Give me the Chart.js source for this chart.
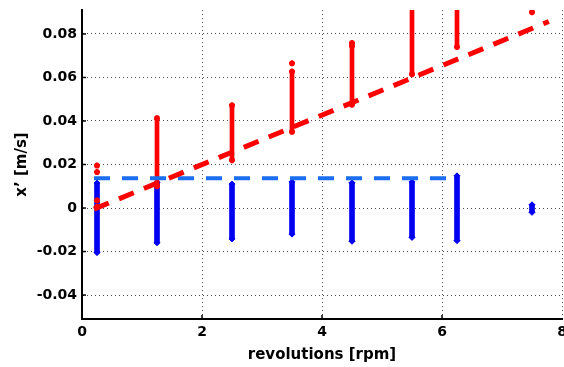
<!DOCTYPE html>
<html>
<head>
<meta charset="utf-8">
<script src="https://cdn.jsdelivr.net/npm/chart.js@4/dist/chart.umd.min.js"></script>
<style>
  html, body { margin: 0; background: #fff; }
  #wrap { width: 564px; height: 367px; }
</style>
</head>
<body>
<div id="wrap"><canvas id="grafico"></canvas></div>
<script>
// --- Datos ---
const rpm = [0.25, 1.25, 2.5, 3.5, 4.5, 5.5, 6.25, 7.5];

// rango vertical de puntos rojos por velocidad (null = sin columna)
const rojoMin = [null, 0.010, 0.022, 0.035, 0.0475, 0.0615, 0.074, null];
const rojoMax = [null, 0.0413, 0.0472, 0.0627, 0.0745, 0.095, 0.095, null];

// puntos rojos sueltos
const rojoSueltoX = [0.25, 0.25, 0.25, 0.25, 3.5, 4.5, 7.5];
const rojoSueltoY = [0.0195, 0.0165, 0.0035, 0.0005, 0.0665, 0.0758, 0.090];

// rango vertical de puntos azules
const azulMin = [-0.0205, -0.016, -0.0142, -0.012, -0.0153, -0.0135, -0.015, -0.002];
const azulMax = [0.0115, 0.0118, 0.011, 0.012, 0.0116, 0.012, 0.0148, 0.0015];

// líneas de tendencia
const tendRojoX = [0.2, 7.78];
const tendRojoY = [-0.0005, 0.0857];
const tendAzulX = [0.2, 6.07];
const tendAzulY = [0.0137, 0.0137];

const ticksX = [0, 2, 4, 6, 8];
const ticksY = [-0.04, -0.02, 0, 0.02, 0.04, 0.06, 0.08];

// --- Armar datasets ---
const rangos = (mins, maxs) => rpm
  .map((x, i) => mins[i] === null ? null : { x, y: [mins[i], maxs[i]] })
  .filter(d => d);
const extremos = (mins, maxs) => rpm.flatMap((x, i) =>
  mins[i] === null ? [] : [{ x, y: mins[i] }, { x, y: maxs[i] }]);
const puntos = (xs, ys) => xs.map((x, i) => ({ x, y: ys[i] }));

const fuenteTick = { family: "DejaVu Sans", weight: "bold", size: 14 };
const fuenteTitulo = { family: "DejaVu Sans", weight: "bold", size: 15 };
const gridPunteado = {
  color: "rgba(0,0,0,0.7)",
  lineWidth: 1,
  drawTicks: false
};

// ticks hacia adentro, como en MATLAB
const ticksAdentro = {
  id: "ticksAdentro",
  afterDraw(chart) {
    const { ctx, chartArea, scales } = chart;
    ctx.save();
    ctx.strokeStyle = "#000";
    ctx.lineWidth = 1.5;
    ticksX.forEach(v => {
      const px = scales.x.getPixelForValue(v);
      if (px <= chartArea.left + 1 || px >= chartArea.right - 1) return;
      ctx.beginPath();
      ctx.moveTo(px, chartArea.bottom);
      ctx.lineTo(px, chartArea.bottom - 4);
      ctx.stroke();
    });
    ticksY.forEach(v => {
      const py = scales.y.getPixelForValue(v);
      ctx.beginPath();
      ctx.moveTo(chartArea.left, py);
      ctx.lineTo(chartArea.left + 4, py);
      ctx.stroke();
    });
    ctx.restore();
  }
};

new Chart(document.getElementById("grafico"), {
  type: "scatter",
  data: {
    datasets: [
      {
        type: "line",
        data: puntos(tendRojoX, tendRojoY),
        borderColor: "#ff0000",
        borderWidth: 5,
        borderDash: [16, 11],
        pointRadius: 0,
        order: 0
      },
      {
        type: "line",
        data: puntos(tendAzulX, tendAzulY),
        borderColor: "#1a6ef0",
        borderWidth: 4,
        borderDash: [16, 12],
        pointRadius: 0,
        order: 1
      },
      {
        type: "bar",
        data: rangos(rojoMin, rojoMax),
        backgroundColor: "#ff0000",
        barThickness: 4,
        grouped: false,
        order: 2
      },
      {
        data: extremos(rojoMin, rojoMax).concat(puntos(rojoSueltoX, rojoSueltoY)),
        pointStyle: "star",
        pointRadius: 3,
        borderWidth: 2,
        borderColor: "#ff0000",
        backgroundColor: "#ff0000",
        order: 2
      },
      {
        type: "bar",
        data: rangos(azulMin, azulMax),
        backgroundColor: "#0000f0",
        barThickness: 5,
        grouped: false,
        order: 3
      },
      {
        data: extremos(azulMin, azulMax),
        pointStyle: "rectRot",
        pointRadius: 3,
        borderWidth: 1,
        borderColor: "#0000f0",
        backgroundColor: "#0000f0",
        order: 3
      }
    ]
  },
  options: {
    responsive: true,
    maintainAspectRatio: false,
    animation: false,
    layout: { autoPadding: false, padding: { left: 0, right: 2, top: 10, bottom: 0 } },
    plugins: { legend: { display: false }, tooltip: { enabled: false } },
    scales: {
      x: {
        type: "linear",
        min: 0,
        max: 8,
        offset: false,
        afterBuildTicks: s => { s.ticks = ticksX.map(v => ({ value: v })); },
        afterFit: s => { s.height = 48; s.paddingLeft = 0; s.paddingRight = 0; },
        grid: { ...gridPunteado, offset: false },
        border: { display: true, color: "#000", width: 2, dash: [1, 3] },
        ticks: { color: "#000", font: fuenteTick, padding: 5, maxRotation: 0 },
        title: {
          display: true,
          text: "revolutions [rpm]",
          color: "#000",
          font: fuenteTitulo,
          padding: { top: 0, bottom: 3 }
        }
      },
      y: {
        type: "linear",
        min: -0.051,
        max: 0.091,
        afterBuildTicks: s => { s.ticks = ticksY.map(v => ({ value: v })); },
        afterFit: s => { s.width = 82; s.paddingTop = 0; s.paddingBottom = 0; },
        grid: gridPunteado,
        border: { display: true, color: "#000", width: 2, dash: [1, 3] },
        ticks: {
          color: "#000",
          font: fuenteTick,
          padding: 5,
          callback: v => String(Number(v.toFixed(2)))
        },
        title: {
          display: true,
          text: "x’ [m/s]",
          color: "#000",
          font: fuenteTitulo,
          padding: { top: 13, bottom: 0 }
        }
      }
    }
  },
  plugins: [ticksAdentro]
});
</script>
</body>
</html>
